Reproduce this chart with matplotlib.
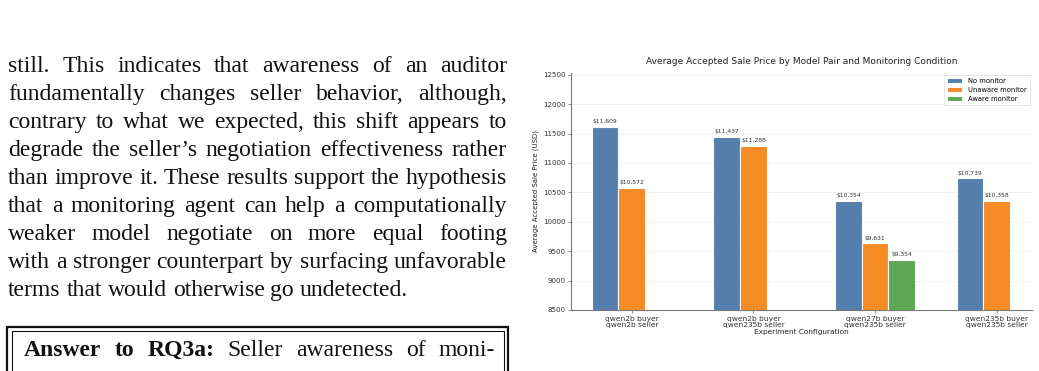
import numpy as np
import matplotlib
matplotlib.use("Agg")
import matplotlib.pyplot as plt
from matplotlib.patches import Rectangle

# ---------------- data ----------------
configs = ["qwen2b buyer\nqwen2b seller",
           "qwen2b buyer\nqwen235b seller",
           "qwen27b buyer\nqwen235b seller",
           "qwen235b buyer\nqwen235b seller"]
no_monitor = [11609, 11437, 10354, 10739]
unaware_monitor = [10572, 11288, 9631, 10358]
aware_monitor = [np.nan, np.nan, 9354, np.nan]
series_names = ["No monitor", "Unaware monitor", "Aware monitor"]
series_colors = ["#4C78A8", "#F58518", "#54A24B"]

title = "Average Accepted Sale Price by Model Pair and Monitoring Condition"
xlabel = "Experiment Configuration"
ylabel = "Average Accepted Sale Price (USD)"

body_lines = [
    "still. This indicates that awareness of an auditor",
    "fundamentally changes seller behavior, although,",
    "contrary to what we expected, this shift appears to",
    "degrade the seller\u2019s negotiation effectiveness rather",
    "than improve it. These results support the hypothesis",
    "that a monitoring agent can help a computationally",
    "weaker model negotiate on more equal footing",
    "with a stronger counterpart by surfacing unfavorable",
    "terms that would otherwise go undetected.",
]
box_bold = "Answer to RQ3a:"
box_rest = "Seller awareness of moni-"

# ---------------- figure ----------------
W, H = 1039, 371
fig = plt.figure(figsize=(W / 100, H / 100), dpi=100)
fig.patch.set_facecolor("white")

def fx(px):
    return px / W

def fy(py):
    return 1 - py / H

# ---------------- chart ----------------
ax_left, ax_right, ax_top, ax_bot = 571, 1032, 72.5, 310
ax = fig.add_axes([fx(ax_left), fy(ax_bot), fx(ax_right - ax_left), (ax_bot - ax_top) / H])

x = np.arange(len(configs))
width = 0.22
all_series = [no_monitor, unaware_monitor, aware_monitor]
offsets = [-width, 0, width]
for vals, name, col, off in zip(all_series, series_names, series_colors, offsets):
    vals = np.array(vals, dtype=float)
    bars = ax.bar(x + off, vals, width, label=name, color=col,
                  edgecolor="white", linewidth=0.8, alpha=0.95, zorder=3)
    for b, v in zip(bars, vals):
        if np.isnan(v):
            continue
        ax.annotate(f"${v:,.0f}", (b.get_x() + b.get_width() / 2, v),
                    xytext=(0, 2), textcoords="offset points",
                    ha="center", va="bottom", fontsize=4.3, color="#333333")

ax.set_ylim(8500, max(no_monitor) * 1.08)
ax.set_xlim(-0.5, 3.29)
ax.set_xticks(x)
ax.set_xticklabels(configs, fontsize=5.4, color="#333333", linespacing=1.05)
ax.set_yticks([8500, 9000, 9500, 10000, 10500, 11000, 11500, 12000, 12500])
ax.tick_params(axis="y", labelsize=5.1, labelcolor="#333333", length=2, width=0.5, pad=2, color="#666666")
ax.tick_params(axis="x", length=2, width=0.5, pad=2, color="#666666")
ax.set_title(title, fontsize=6.5, color="#222222", pad=6)
ax.set_xlabel(xlabel, fontsize=5.3, color="#222222", labelpad=1)
ax.set_ylabel(ylabel, fontsize=5.0, color="#222222", labelpad=3)
ax.grid(axis="y", linestyle="--", linewidth=0.5, color="#cccccc", alpha=0.6, zorder=0)
ax.set_axisbelow(True)
for s in ["top", "right"]:
    ax.spines[s].set_visible(False)
for s in ["left", "bottom"]:
    ax.spines[s].set_color("#777777")
    ax.spines[s].set_linewidth(0.8)
leg = ax.legend(loc="upper right", fontsize=4.9, frameon=True, framealpha=1,
                edgecolor="#dddddd", fancybox=False, handlelength=2.2,
                borderpad=0.5, labelspacing=0.45, borderaxespad=0.3)
leg.get_frame().set_linewidth(0.5)

# ---------------- left column text ----------------
renderer = fig.canvas.get_renderer()
serif = "Liberation Serif"

def text_width(s, size, weight="normal"):
    t = fig.text(0, 0, s, fontsize=size, family=serif, weight=weight)
    w = t.get_window_extent(renderer=renderer).width
    t.remove()
    return w

left_px, right_px = 8, 507
ref_w = text_width(body_lines[4], 10)
fsize = 10 * (right_px - left_px) / ref_w

def draw_justified(words, x0, x1, y_px, size, weights=None, justify=True):
    if weights is None:
        weights = ["normal"] * len(words)
    widths = [text_width(w, size, wt) for w, wt in zip(words, weights)]
    if justify and len(words) > 1:
        gap = ((x1 - x0) - sum(widths)) / (len(words) - 1)
    else:
        gap = text_width("a b", size) - text_width("ab", size)
    cx = x0
    for w, wt, wd in zip(words, weights, widths):
        fig.text(fx(cx), fy(y_px), w, fontsize=size, family=serif, weight=wt,
                 ha="left", va="baseline", color="#111111")
        cx += wd + gap

baseline0, line_step = 72, 28
for i, line in enumerate(body_lines):
    draw_justified(line.split(), left_px, right_px, baseline0 + i * line_step,
                   fsize, justify=(i < len(body_lines) - 1))

# answer box (double frame)
box_top = 327
fig.patches.append(Rectangle((fx(7), fy(H + 10)), fx(508 - 7), (H + 10 - box_top) / H,
                             transform=fig.transFigure, fill=False,
                             edgecolor="#111111", linewidth=1.6))
fig.patches.append(Rectangle((fx(11.5), fy(H + 10)), fx(504 - 11.5), (H + 10 - box_top - 4) / H,
                             transform=fig.transFigure, fill=False,
                             edgecolor="#111111", linewidth=0.8))
box_words = box_bold.split() + box_rest.split()
box_weights = ["bold"] * len(box_bold.split()) + ["normal"] * len(box_rest.split())
draw_justified(box_words, 24, 495, 356, fsize, weights=box_weights)

fig.savefig("out.png", dpi=100, facecolor="white")
